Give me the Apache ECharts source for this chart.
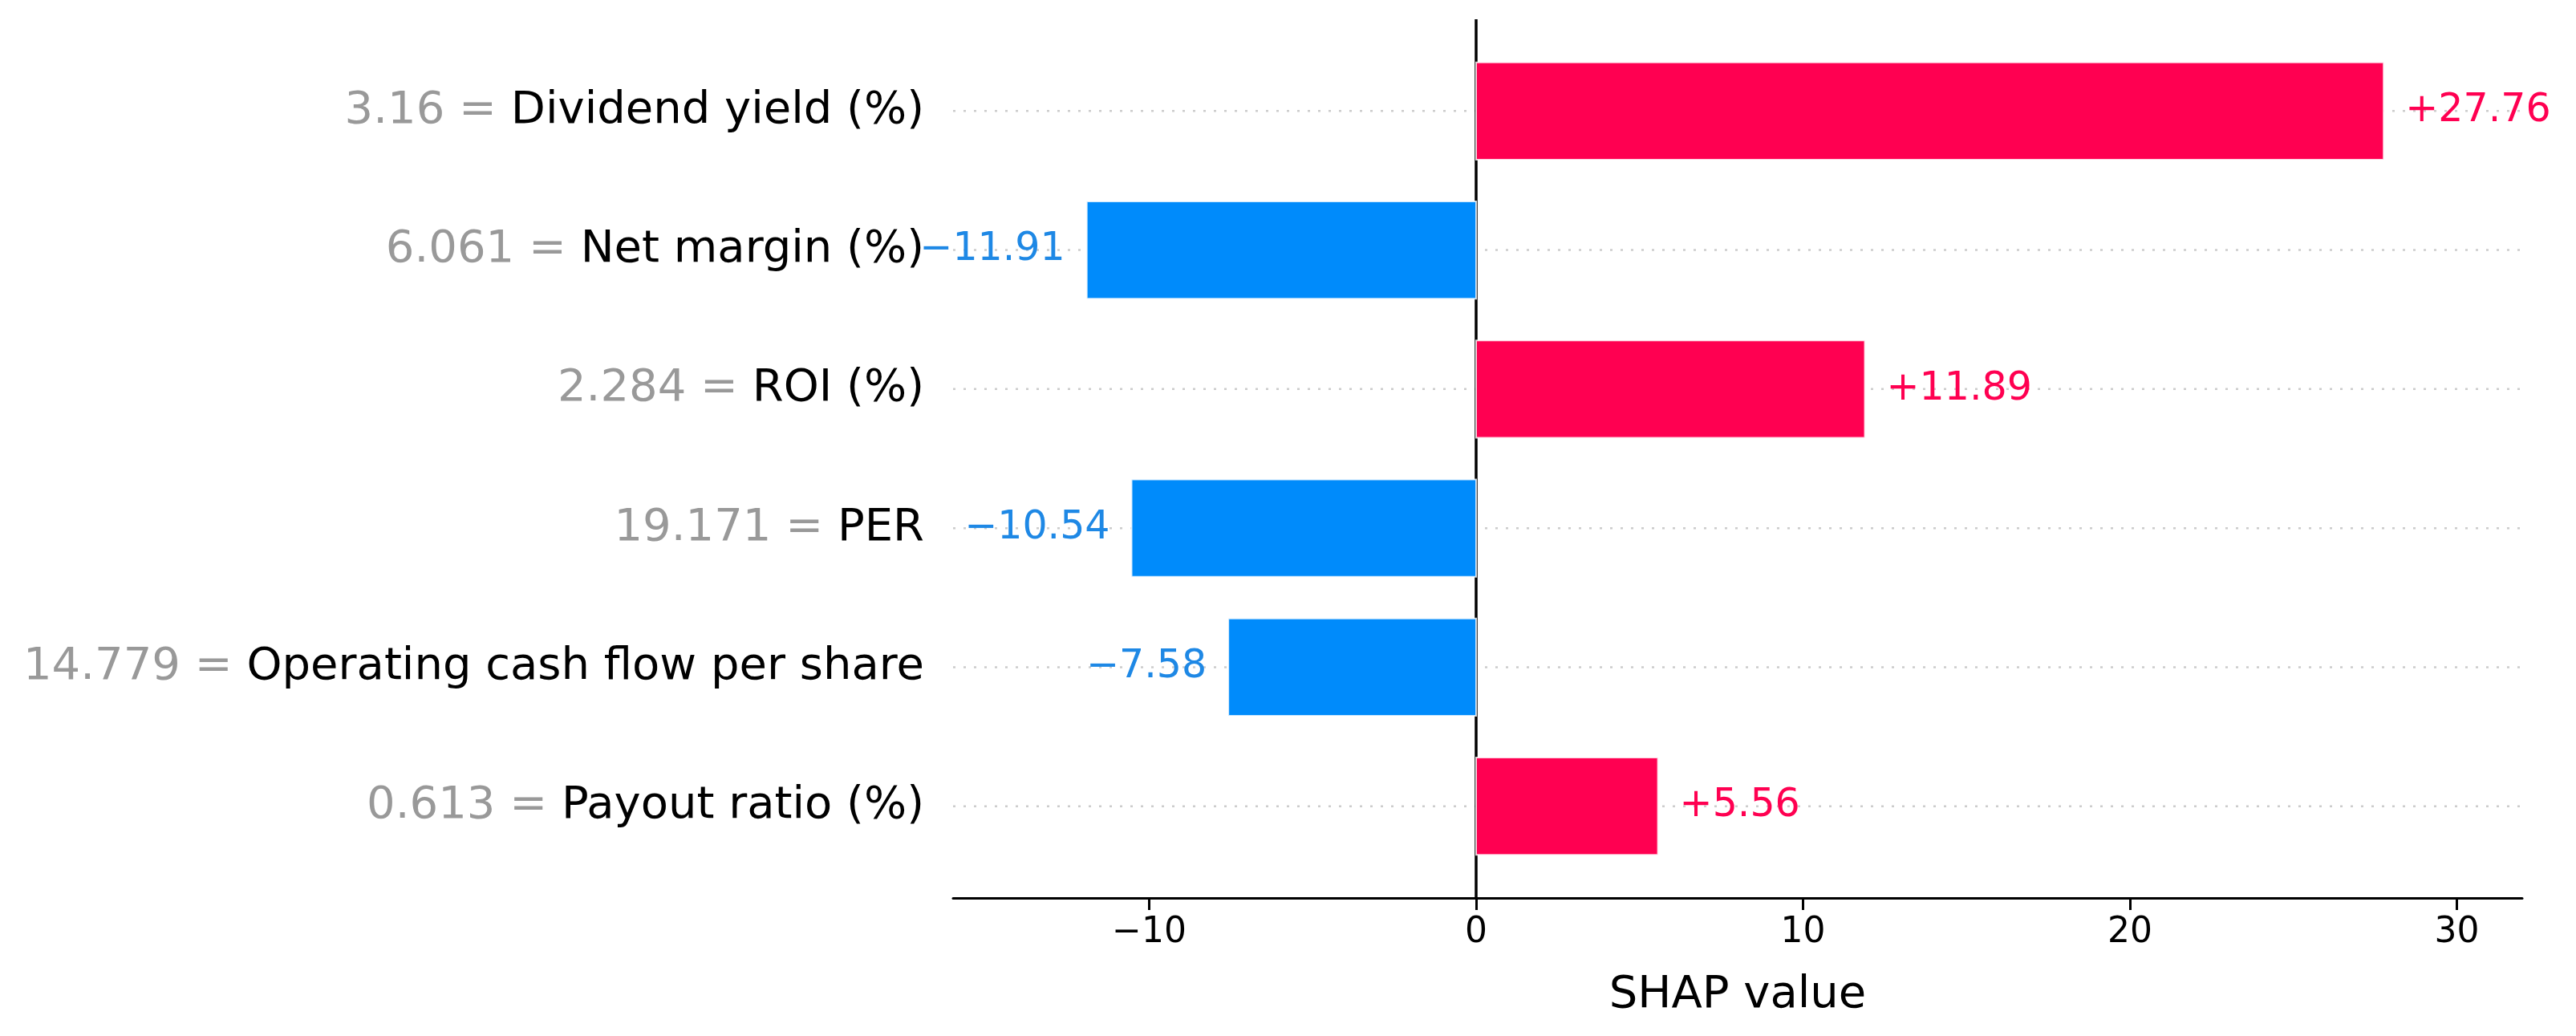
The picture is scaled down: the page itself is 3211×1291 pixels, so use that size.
<!DOCTYPE html>
<html>
<head>
<meta charset="utf-8">
<script src="https://cdn.jsdelivr.net/npm/echarts@6/dist/echarts.min.js"></script>
<style>
  html, body { margin: 0; padding: 0; background: #ffffff; }
  #chart { width: 3211px; height: 1291px; }
</style>
</head>
<body>
<div id="chart"></div>
<script>
// ---- data ----
const features = ['Dividend yield (%)', 'Net margin (%)', 'ROI (%)', 'PER', 'Operating cash flow per share', 'Payout ratio (%)'];
const featureValues = ['3.16', '6.061', '2.284', '19.171', '14.779', '0.613'];
const shapValues = [27.76, -11.91, 11.89, -10.54, -7.58, 5.56];
const xTicks = [-10, 0, 10, 20, 30];
const rowIndex = features.map((_, i) => i);

// ---- style ----
const RED = '#ff0051';
const BLUE = '#008bfb';
const BLUE_TEXT = '#1e88e5';
const FONT = 'DejaVu Sans';

const minus = s => String(s).replace('-', '\u2212');
const fmtShap = v => (v > 0 ? '+' : '\u2212') + Math.abs(v).toFixed(2);

const chart = echarts.init(document.getElementById('chart'), null, { renderer: 'canvas' });

const option = {
  backgroundColor: '#ffffff',
  animation: false,
  textStyle: { fontFamily: FONT },
  grid: { left: 1188, right: 67, top: 24, bottom: 172, containLabel: false, outerBoundsMode: 'none' },
  xAxis: {
    type: 'value',
    min: -16,
    max: 32,
    axisLine: { show: true, onZero: false, lineStyle: { color: '#000000', width: 3 } },
    axisTick: { show: true, customValues: xTicks, length: 15, lineStyle: { color: '#000000', width: 3 } },
    axisLabel: {
      customValues: xTicks,
      formatter: v => minus(v),
      fontSize: 44, color: '#000000', fontFamily: FONT, margin: 22
    },
    splitLine: { show: false },
    name: 'SHAP value',
    nameLocation: 'middle',
    nameGap: 93,
    nameTextStyle: { fontSize: 56, color: '#000000', fontFamily: FONT }
  },
  yAxis: {
    type: 'value',
    inverse: true,
    min: -0.66,
    max: 5.66,
    axisLine: { show: false },
    axisTick: { show: false },
    splitLine: { show: false },
    axisLabel: {
      customValues: rowIndex,
      margin: 36,
      formatter: v => '{v|' + featureValues[v] + ' = }{n|' + features[v] + '}',
      rich: {
        v: { fontSize: 56, color: '#999999', fontFamily: FONT },
        n: { fontSize: 56, color: '#000000', fontFamily: FONT }
      }
    }
  },
  series: [
    {
      // dotted row guides
      type: 'custom',
      z: 0,
      silent: true,
      clip: false,
      data: rowIndex.map(i => [0, i]),
      renderItem: function (params, api) {
        const p = api.coord([0, api.value(1)]);
        const cs = params.coordSys;
        return {
          type: 'line',
          shape: { x1: cs.x, y1: p[1], x2: cs.x + cs.width, y2: p[1] },
          style: { stroke: '#cccccc', lineWidth: 2.5, lineDash: [3, 10] }
        };
      }
    },
    {
      // zero line
      type: 'custom',
      z: 1,
      silent: true,
      data: [],
      renderItem: function () { return null; },
      markLine: {
        silent: true,
        z: 1,
        symbol: ['none', 'none'],
        label: { show: false },
        lineStyle: { color: '#000000', width: 3.5, type: 'solid' },
        data: [{ xAxis: 0 }]
      }
    },
    {
      type: 'custom',
      z: 2,
      silent: true,
      clip: false,
      data: shapValues.map((v, i) => [v, i]),
      renderItem: function (params, api) {
        const v = api.value(0);
        const r = api.value(1);
        const a = api.coord([0, r]);
        const b = api.coord([v, r]);
        const h = api.size([0, 0.7])[1];
        const x0 = Math.min(a[0], b[0]);
        const w = Math.abs(b[0] - a[0]);
        const pos = v > 0;
        return {
          type: 'group',
          children: [
            {
              type: 'rect',
              shape: { x: x0, y: a[1] - h / 2, width: w, height: h },
              style: { fill: pos ? RED : BLUE, stroke: 'rgba(255,255,255,0.8)', lineWidth: 2 }
            },
            {
              type: 'text',
              style: {
                x: b[0] + (pos ? 27 : -27),
                y: a[1],
                text: fmtShap(v),
                fill: pos ? RED : BLUE_TEXT,
                font: '49px "' + FONT + '"',
                align: pos ? 'left' : 'right',
                verticalAlign: 'middle'
              }
            }
          ]
        };
      }
    }
  ]
};

chart.setOption(option);
</script>
</body>
</html>
